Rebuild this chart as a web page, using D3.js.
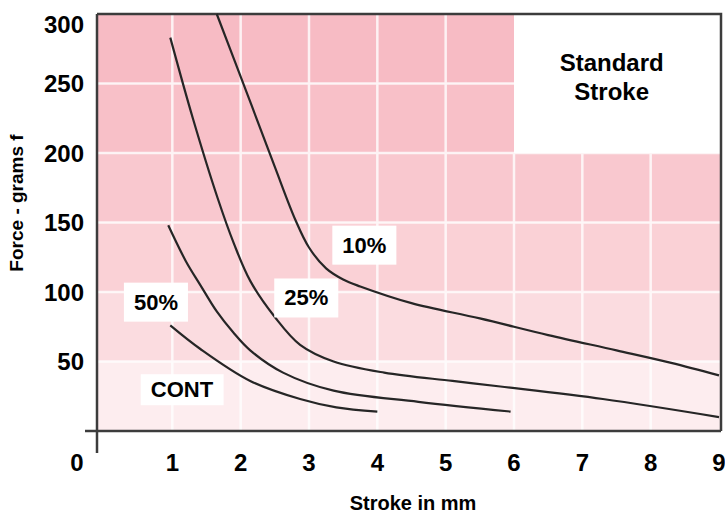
<!DOCTYPE html>
<html>
<head>
<meta charset="utf-8">
<script src="https://cdn.jsdelivr.net/npm/d3@7"></script>
<style>
  body { margin: 0; background: #fff; }
  svg { display: block; font-family: "Liberation Sans", Arial, sans-serif; font-weight: bold; }
</style>
</head>
<body>
<div id="chart"></div>
<script>
// curves: [stroke mm, force g]
var curve10 = [[1.65,300],[2.1,242],[2.5,190],[2.8,152],[3.0,132],[3.25,117],[3.5,109],[3.75,104],[4.5,92],[5.5,81],[6.5,69],[7.5,58],[8.3,49],[9.0,40]];
var curve25 = [[0.97,283],[1.3,225],[1.66,168],[1.9,135],[2.14,108],[2.5,82],[2.87,62],[3.36,50],[4.1,42],[5.1,36],[5.8,32],[7.3,23],[9.0,10]];
var curve50 = [[0.94,148],[1.2,122],[1.41,105],[1.65,86],[1.89,71],[2.14,58],[2.62,42],[3.36,29],[4.6,21],[5.95,14]];
var curveCont = [[0.97,76],[1.41,59],[2.14,36],[2.87,23],[3.4,17],[4.0,14]];

var xTicks = [0,1,2,3,4,5,6,7,8,9];
var yTicks = [50,100,150,200,250,300];
var bandColors = ["#fdedef","#fbdce0","#fad1d6","#f9c8cf","#f8c0c8","#f7bbc4"];

// curve labels, anchored in data units
var curveLabels = [
  {text:"10%", x:3.81, y:134},
  {text:"25%", x:2.96, y:96},
  {text:"50%", x:0.76, y:93},
  {text:"CONT", x:1.14, y:30}
];

var width = 725, height = 513;
var svg = d3.select("#chart").append("svg")
  .attr("width", width)
  .attr("height", height);

var x = d3.scaleLinear().domain([0, 9]).range([104, 719]);
var y = d3.scaleLinear().domain([0, 300]).range([431, 14]);
var left = 97, right = 721;

// pink bands, 50 g each
var bands = svg.append("g");
bands.selectAll("rect")
  .data(bandColors)
  .enter()
  .append("rect")
  .attr("x", left)
  .attr("y", function(d, i){ return y((i + 1) * 50); })
  .attr("width", right - left)
  .attr("height", function(d, i){ return y(i * 50) - y((i + 1) * 50); })
  .attr("fill", function(d){ return d; });

// white corner with "Standard Stroke"
svg.append("rect")
  .attr("x", x(6))
  .attr("y", y(300))
  .attr("width", right - x(6))
  .attr("height", y(200) - y(300))
  .attr("fill", "#fff");

// white grid
var grid = svg.append("g").attr("stroke", "#fff").attr("stroke-width", 2.5).attr("opacity", 0.8);
grid.selectAll(".gx")
  .data(d3.range(1, 9))
  .enter()
  .append("line")
  .attr("x1", function(d){ return x(d); })
  .attr("x2", function(d){ return x(d); })
  .attr("y1", function(d){ return d >= 6 ? y(200) : y(300); })
  .attr("y2", y(0));
grid.selectAll(".gy")
  .data([50,100,150,200,250])
  .enter()
  .append("line")
  .attr("x1", left)
  .attr("x2", function(d){ return d > 200 ? x(6) : right; })
  .attr("y1", function(d){ return y(d); })
  .attr("y2", function(d){ return y(d); });

// frame and axes
var frame = svg.append("g").attr("stroke", "#3c3c3c").attr("stroke-width", 2.5).attr("fill", "none");
frame.append("path")
  .attr("d", "M" + left + "," + y(300) + "H" + right + "V" + y(0));
frame.append("line")
  .attr("x1", 85).attr("x2", right)
  .attr("y1", y(0)).attr("y2", y(0));
frame.append("line")
  .attr("x1", left).attr("x2", left)
  .attr("y1", y(300)).attr("y2", 453);

// curves
var line = d3.line()
  .x(function(d){ return x(d[0]); })
  .y(function(d){ return y(d[1]); })
  .curve(d3.curveCatmullRom.alpha(0.5));

svg.append("g").selectAll("path")
  .data([curve10, curve25, curve50, curveCont])
  .enter()
  .append("path")
  .attr("d", line)
  .attr("fill", "none")
  .attr("stroke", "#262626")
  .attr("stroke-width", 2.2);

// labels in white boxes
var lab = svg.append("g").selectAll("g")
  .data(curveLabels)
  .enter()
  .append("g")
  .attr("transform", function(d){ return "translate(" + x(d.x) + "," + y(d.y) + ")"; });
lab.append("text")
  .attr("text-anchor", "middle")
  .attr("dy", "0.36em")
  .style("font-size", "22px")
  .text(function(d){ return d.text; });
lab.each(function(d){
  var g = d3.select(this);
  var b = g.select("text").node().getBBox();
  var py = d.text == "CONT" ? 3 : 7;
  g.insert("rect", "text")
    .attr("x", b.x - 10)
    .attr("y", b.y - py)
    .attr("width", b.width + 20)
    .attr("height", b.height + py * 2)
    .attr("fill", "#fff");
});

svg.append("text")
  .attr("x", x(7.43))
  .attr("text-anchor", "middle")
  .style("font-size", "24px")
  .selectAll("tspan")
  .data(["Standard", "Stroke"])
  .enter()
  .append("tspan")
  .attr("x", x(7.43))
  .attr("y", function(d, i){ return 71 + i * 29; })
  .text(function(d){ return d; });

// tick labels
svg.append("g").selectAll("text")
  .data(xTicks)
  .enter()
  .append("text")
  .attr("x", function(d){ return d == 0 ? x(d) - 27 : x(d); })
  .attr("y", 471)
  .attr("text-anchor", "middle")
  .style("font-size", "24px")
  .text(function(d){ return d; });

svg.append("g").selectAll("text")
  .data(yTicks)
  .enter()
  .append("text")
  .attr("x", 84)
  .attr("y", function(d){ return d == 300 ? y(d) + 10 : y(d); })
  .attr("dy", "0.36em")
  .attr("text-anchor", "end")
  .style("font-size", "24px")
  .text(function(d){ return d; });

// axis titles
svg.append("text")
  .attr("x", 413)
  .attr("y", 510)
  .attr("text-anchor", "middle")
  .style("font-size", "20px")
  .text("Stroke in mm");

svg.append("text")
  .attr("transform", "translate(23,203) rotate(-90)")
  .attr("text-anchor", "middle")
  .style("font-size", "19px")
  .text("Force - grams f");
</script>
</body>
</html>
